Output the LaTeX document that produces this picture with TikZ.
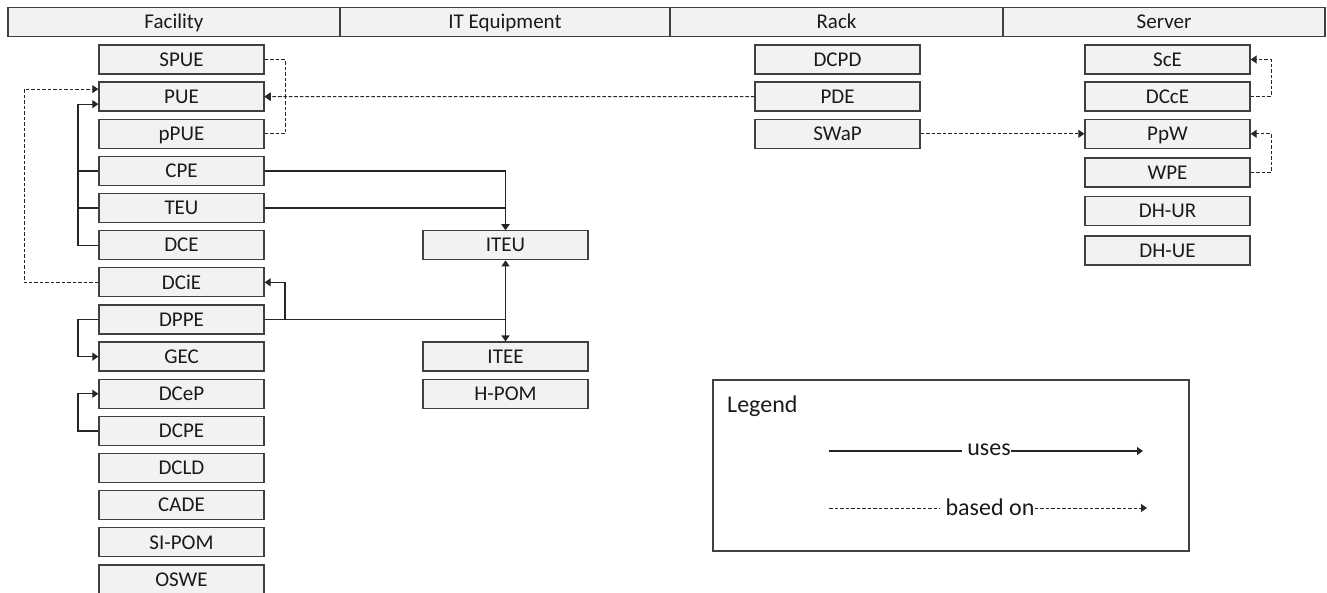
\documentclass[tikz,border=0pt]{standalone}
\usepackage{fontspec}
\setmainfont{Carlito}
\usetikzlibrary{arrows.meta,calc}
\definecolor{boxfill}{HTML}{F2F2F2}
\definecolor{boxline}{HTML}{404040}
\definecolor{conn}{HTML}{262626}
\definecolor{txt}{HTML}{1A1A1A}
\tikzset{
  box/.style={draw=boxline, line width=1.3pt, fill=boxfill, text=txt, minimum width=165pt, minimum height=29pt, inner sep=0pt, text height=13.5pt, text depth=0pt, font=\fontsize{21pt}{23pt}\selectfont},
  hdr/.style={draw=boxline, line width=1.3pt, fill=boxfill, text=txt, minimum height=29pt, inner sep=0pt, text height=13.5pt, text depth=0pt, font=\fontsize{21pt}{23pt}\selectfont},
  uses/.style={draw=conn, line width=1.2pt, -{Triangle[length=6pt,width=8pt]}},
  usesn/.style={draw=conn, line width=1.2pt},
  basedon/.style={draw=conn, line width=1pt, dash pattern=on 3.5pt off 2pt, -{Triangle[length=6pt,width=8pt]}},
  basedonn/.style={draw=conn, line width=1pt, dash pattern=on 3.5pt off 2pt},
  legtext/.style={font=\fontsize{24pt}{26pt}\selectfont, text=txt, inner sep=0pt},
}
\begin{document}
\begin{tikzpicture}[x=1pt,y=-1pt]
\useasboundingbox (0,0) rectangle (1327,592);
% header
\node[hdr, minimum width=332pt] (hfac) at (174,22) {Facility};
\node[hdr, minimum width=330pt] (hit) at (505,22) {IT Equipment};
\node[hdr, minimum width=333pt] (hrack) at (836.5,22) {Rack};
\node[hdr, minimum width=322pt] (hsrv) at (1164,22) {Server};
% facility column
\foreach \n/\t [count=\i from 0] in {spue/SPUE, pue/PUE, ppue/pPUE, cpe/CPE, teu/TEU, dce/DCE, dcie/DCiE, dppe/DPPE, gec/GEC, dcep/DCeP, dcpe/DCPE, dcld/DCLD, cade/CADE, sipom/SI-POM, oswe/OSWE}
  \node[box] (\n) at (181.5,59.5+\i*37.14) {\t};
% IT equipment
\node[box] (iteu) at (505.5,245.2) {ITEU};
\node[box] (itee) at (505.5,356.6) {ITEE};
\node[box] (hpom) at (505.5,393.8) {H-POM};
% rack
\node[box] (dcpd) at (837.5,59.5) {DCPD};
\node[box] (pde) at (837.5,96.6) {PDE};
\node[box] (swap) at (837.5,133.8) {SWaP};
% server
\node[box] (sce) at (1167.5,59.5) {ScE};
\node[box] (dcce) at (1167.5,96.6) {DCcE};
\node[box] (ppw) at (1167.5,133.8) {PpW};
\node[box] (wpe) at (1167.5,172.5) {WPE};
\node[box] (dhur) at (1167.5,211) {DH-UR};
\node[box] (dhue) at (1167.5,250.5) {DH-UE};
% junction coordinates
\coordinate (jr) at (285,0);
\coordinate (jl) at (78,0);
\coordinate (jd) at (24,0);
\coordinate (js) at (1271,0);
% based-on connectors
\draw[basedon] (spue.east) -| (jr |- pue.east) -- (pue.east);
\draw[basedon] (ppue.east) -| (jr |- pue.east) -- (pue.east);
\draw[basedon] (pde.west) -- (pue.east);
\draw[basedon] (dcie.west) -- (jd |- dcie.west) |- ([yshift=7.5pt]pue.west);
\draw[basedon] (swap.east) -- (swap.east -| ppw.west);
\draw[basedon] (dcce.east) -- (js |- dcce.east) |- (sce.east);
\draw[basedon] (wpe.east) -- (js |- wpe.east) |- (ppw.east);
% uses connectors
\draw[uses] (dce.west) -- (jl |- dce.west) |- ([yshift=-7.5pt]pue.west);
\draw[usesn] (cpe.west) -- (jl |- cpe.west);
\draw[usesn] (teu.west) -- (jl |- teu.west);
\draw[uses] (cpe.east) -| (iteu.north);
\draw[uses] (teu.east) -| (iteu.north);
\draw[uses] (dppe.east) -| (iteu.south);
\draw[uses] (dppe.east) -| (itee.north);
\draw[uses] (dppe.east) -- (jr |- dppe.east) |- (dcie.east);
\draw[uses] (dppe.west) -- (jl |- dppe.west) |- (gec.west);
\draw[uses] (dcpe.west) -- (jl |- dcpe.west) |- (dcep.west);
% legend
\node[draw=boxline, line width=1.3pt, minimum width=476pt, minimum height=171pt, inner sep=0pt] (legend) at (951,465.5) {};
\node[legtext, anchor=west] (legt) at (727,406) {Legend};
\coordinate (u0) at (829,451);
\coordinate (u1) at (1143,451);
\node[legtext] (ut) at (989,450) {uses};
\draw[usesn] (u0) -- ([xshift=-5pt]ut.west |- u0);
\draw[uses] (ut.east |- u0) -- (u1);
\coordinate (b0) at (829,508);
\coordinate (b1) at (1147,508);
\node[legtext] (bt) at (990,507) {based on};
\draw[basedonn] (b0) -- ([xshift=-5pt]bt.west |- b0);
\draw[basedon] (bt.east |- b0) -- (b1);
\end{tikzpicture}
\end{document}
